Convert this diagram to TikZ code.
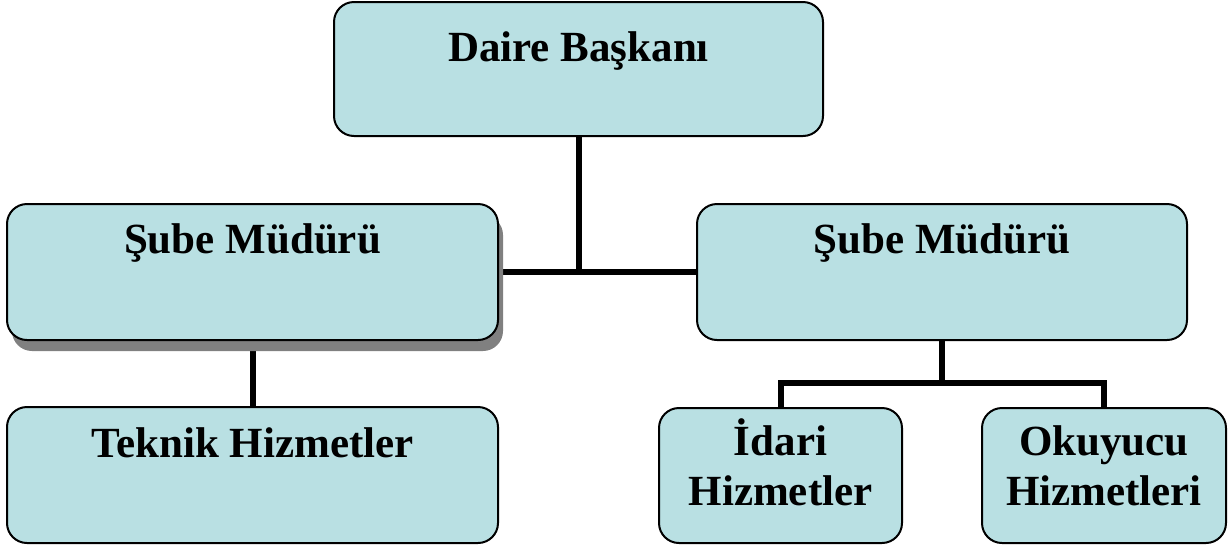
\documentclass[tikz,border=0pt]{standalone}
\usepackage{fontspec}
\setmainfont{Liberation Serif}
\usetikzlibrary{backgrounds,shadows}
\definecolor{boxfill}{RGB}{185,224,227}
\definecolor{shgray}{RGB}{128,128,128}
\begin{document}
\begin{tikzpicture}[x=1pt,y=-1pt,
  orgbox/.style={draw=black, line width=2pt, fill=boxfill, rounded corners=20pt,
    rectangle, inner sep=0pt, outer sep=0pt},
  conn/.style={line width=6pt, line join=miter, draw=black},
  lbl/.style={anchor=base, inner sep=0pt, font=\fontsize{43}{50}\selectfont\bfseries}]
\useasboundingbox (0,0) rectangle (1229,547);
\node[orgbox, minimum width=489pt, minimum height=134pt] (top) at (578.5,69) {};
\node[orgbox, minimum width=491pt, minimum height=136pt,
  drop shadow={shadow xshift=5pt, shadow yshift=-11pt, fill=shgray, opacity=1, draw=none}] (L) at (252.5,272) {};
\node[orgbox, minimum width=490pt, minimum height=136pt] (R) at (942,272) {};
\node[orgbox, minimum width=491pt, minimum height=136pt] (T) at (252.5,475) {};
\node[orgbox, minimum width=243pt, minimum height=135pt] (I) at (780.5,475.5) {};
\node[orgbox, minimum width=244pt, minimum height=135pt] (O) at (1104,475.5) {};
\coordinate (rj) at (942,383);
\begin{pgfonlayer}{background}
\draw[conn] (top.south) -- (top.south |- L.east);
\draw[conn] (L.east) -- (R.west);
\draw[conn] (L.south) -- (T.north);
\draw[conn] (R.south) -- (rj);
\draw[conn] (I.north) |- (rj) -| (O.north);
\end{pgfonlayer}
\node[lbl] (tTop) at (578.5,61) {Daire Başkanı};
\node[lbl] (tL) at (252.5,253) {Şube Müdürü};
\node[lbl] (tR) at (942,253) {Şube Müdürü};
\node[lbl] (tT) at (252.5,457) {Teknik Hizmetler};
\node[lbl] (tI) at (780.5,455) {\setlength{\tabcolsep}{0pt}\begin{tabular}[t]{c}İdari\\Hizmetler\end{tabular}};
\node[lbl] (tO) at (1104,455) {\setlength{\tabcolsep}{0pt}\begin{tabular}[t]{c}Okuyucu\\Hizmetleri\end{tabular}};
\end{tikzpicture}
\end{document}
